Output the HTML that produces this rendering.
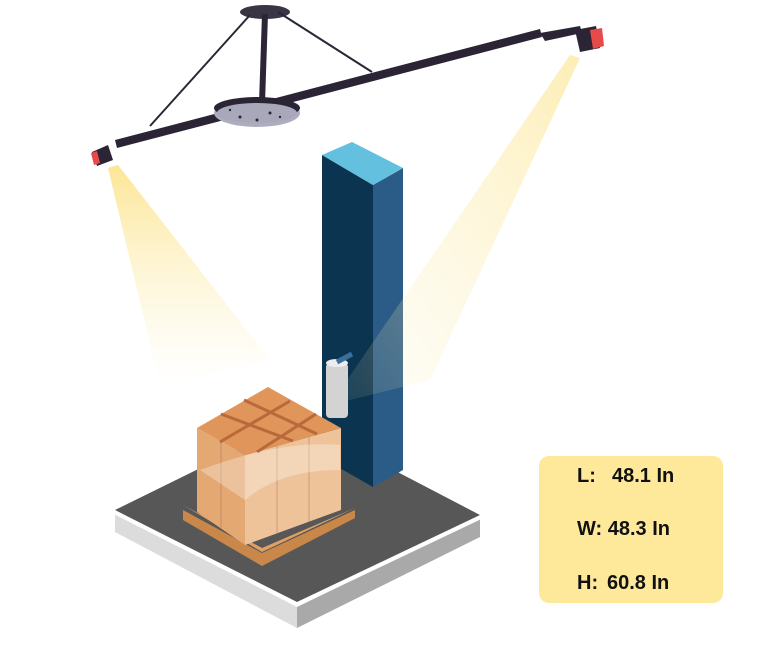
<!DOCTYPE html>
<html><head><meta charset="utf-8"><style>
html,body{margin:0;padding:0;background:#fff;}
svg{display:block}
</style></head><body>
<svg width="768" height="667" viewBox="0 0 768 667" xmlns="http://www.w3.org/2000/svg">
<defs>
<linearGradient id="gl" x1="0" y1="0" x2="0" y2="1">
<stop offset="0" stop-color="#fbe07a" stop-opacity="0.8"/>
<stop offset="1" stop-color="#fdf0c0" stop-opacity="0"/>
</linearGradient>
<linearGradient id="gr" x1="1" y1="0" x2="0" y2="1">
<stop offset="0" stop-color="#fbe07a" stop-opacity="0.85"/>
<stop offset="1" stop-color="#fdf0c0" stop-opacity="0.1"/>
</linearGradient>
</defs>
<polygon points="108,168 118,165 270,360 160,385" fill="url(#gl)"/>
<polygon points="115,513 297,607 297,628 115,532" fill="#dcdcdc"/>
<polygon points="297,607 480,518 480,537 297,628" fill="#a9a9a9"/>
<polyline points="115,513 297,605 480,518" fill="none" stroke="#fff" stroke-width="3"/>
<polygon points="115,510 298,420 480,515 297,602" fill="#575757"/>
<polygon points="322,155 373,185 373,487 322,458" fill="#0b3450"/>
<polygon points="373,185 403,168 403,470 373,487" fill="#2b5c87"/>
<polygon points="322,155 352,142 403,168 373,185" fill="#63c0de"/>
<polygon points="570,55 580,58 430,380 330,405" fill="url(#gr)" opacity="0.65"/>
<rect x="326" y="363" width="22" height="55" rx="4" fill="#d3d3d3"/>
<ellipse cx="337" cy="363" rx="11" ry="4" fill="#ececec"/>
<line x1="337" y1="362" x2="352" y2="354" stroke="#3b6f9b" stroke-width="5"/>
<polygon points="183,510 262,553 355,510 355,518 262,566 183,520" fill="#c9884a"/>
<polygon points="183,505 262,548 355,508 262,552" fill="#dfa062"/>
<polygon points="197,428 245,455 245,545 197,512" fill="#e4a873"/>
<polygon points="245,455 341,428 341,510 245,545" fill="#eec39a"/>
<polygon points="197,428 268,387 341,428 245,455" fill="#e0955a"/>
<g stroke="#b9693a" stroke-width="3">
<line x1="221" y1="414" x2="293" y2="441"/>
<line x1="244" y1="400" x2="317" y2="434"/>
<line x1="220" y1="442" x2="290" y2="401"/>
<line x1="257" y1="452" x2="316" y2="414"/>
</g>
<g stroke="#9a6a45" stroke-width="0.7" opacity="0.6">
<line x1="221" y1="441" x2="221" y2="528"/>
<line x1="277" y1="446" x2="277" y2="533"/>
<line x1="309" y1="437" x2="309" y2="522"/>
</g>
<path d="M200,470 Q280,440 340,445 L340,470 Q280,470 245,500 Z" fill="#fff" opacity="0.3"/>
<ellipse cx="265" cy="12" rx="25" ry="7" fill="#3a3545"/>
<line x1="265" y1="14" x2="262" y2="103" stroke="#2b2535" stroke-width="6"/>
<line x1="250" y1="15" x2="150" y2="126" stroke="#2b2535" stroke-width="2"/>
<line x1="278" y1="12" x2="372" y2="72" stroke="#2b2535" stroke-width="2"/>
<polygon points="115,140 540,29 542,37 117,148" fill="#2a2434"/>
<polygon points="540,33 580,26 582,33 545,41" fill="#2a2434"/>
<ellipse cx="257" cy="113" rx="43" ry="14" fill="#aeadc0"/>
<ellipse cx="257" cy="108" rx="43" ry="11" fill="#2a2434"/>
<ellipse cx="257" cy="113" rx="40" ry="10" fill="#a9a8bb"/>
<g fill="#2a2434"><circle cx="240" cy="117" r="1.5"/><circle cx="257" cy="120" r="1.5"/><circle cx="270" cy="113" r="1.5"/><circle cx="230" cy="110" r="1.2"/><circle cx="280" cy="117" r="1.2"/></g>
<polygon points="92,152 108,145 113,160 97,166" fill="#2a2434"/>
<polygon points="91,153 97,151 100,163 94,165" fill="#e84a4a"/>
<polygon points="575,30 596,26 600,48 580,52" fill="#2a2434"/>
<polygon points="590,30 602,28 604,46 593,49" fill="#e84a4a"/>
<rect x="539" y="456" width="184" height="147" rx="10" fill="#fee99b"/>
<g font-family="Liberation Sans, sans-serif" font-weight="bold" font-size="20" fill="#111">
<text x="577" y="482">L:</text><text x="612" y="482">48.1 In</text>
<text x="577" y="535">W: 48.3 In</text>
<text x="577" y="589">H:</text><text x="607" y="589">60.8 In</text>
</g>
</svg>
</body></html>
